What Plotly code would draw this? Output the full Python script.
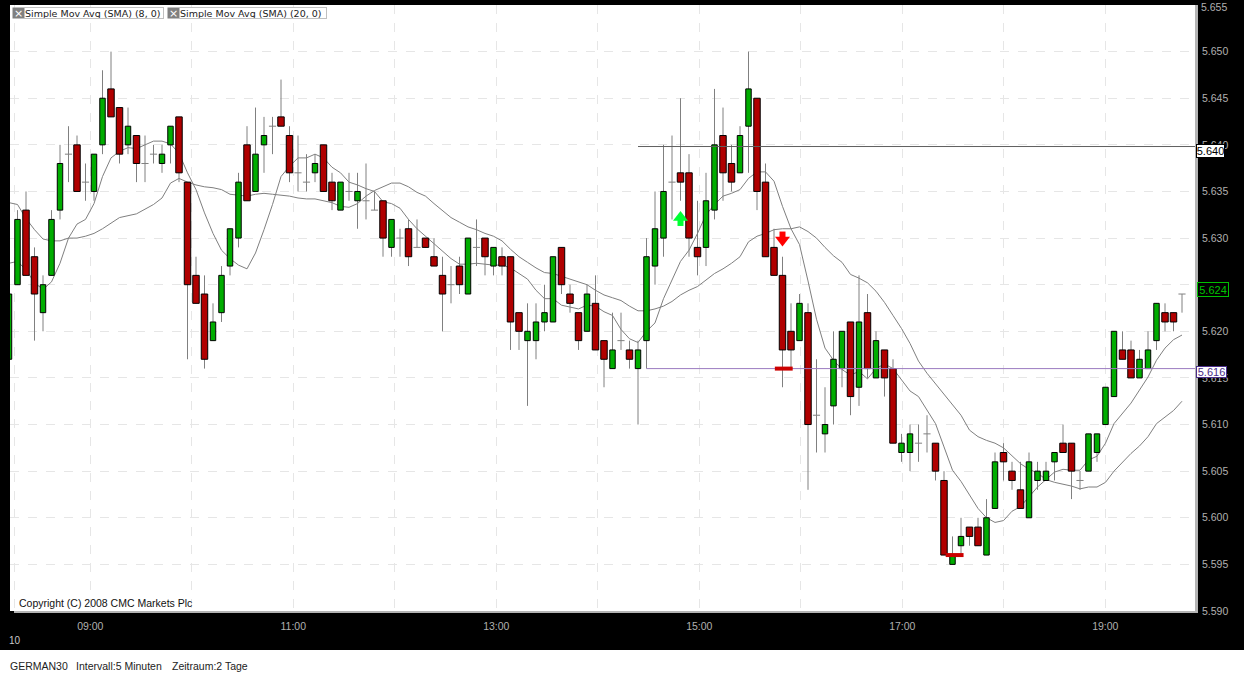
import plotly.graph_objects as go

# Columns: kind (g up, r down, d doji), high, body top, body bottom, low.
# Prices are written in thousandths above 5 (633 -> 5.633).
RAW = """
g 624 624 617 617
g 633 632 625 625
r 635 633 626 626
r 629 628 624 619
g 626 625 622 620
g 633 632 626 626
g 640 638 633 632
d 642 639 639 636
r 641 640 635 635
d 638 636 636 634
g 639 639 635 634
g 648 645 640 639
r 650 646 643 643
r 644 644 639 638
g 644 642 640 639
r 641 641 638 636
d 641 638 638 636
d 640 639 639 638
g 640 639 638 637
g 642 642 640 638
r 643 643 637 636
r 636 636 625 617
r 628 626 623 623
r 626 624 617 616
g 623 621 619 619
g 627 626 622 621
g 631 631 627 626
g 637 636 630 629
r 642 640 634 634
g 644 639 635 635
g 643 641 640 637
d 643 642 642 639
r 647 643 642 642
r 642 641 637 636
d 641 637 637 635
d 639 636 636 635
g 639 638 637 636
r 640 640 635 635
r 637 636 634 633
g 636 636 633 633
d 637 635 635 634
g 637 635 634 631
d 638 634 634 632
d 635 633 633 633
r 634 634 630 628
g 632 632 629 628
d 631 630 630 628
r 632 631 628 627
d 632 629 629 629
r 630 630 629 629
r 630 628 627 627
r 628 626 624 620
d 627 625 625 623
r 628 627 625 624
g 630 630 624 624
d 632 629 629 627
r 630 630 628 626
g 629 629 627 626
r 629 628 627 626
r 628 628 621 618
r 622 622 620 618
g 623 620 619 612
g 623 621 619 617
g 625 622 621 620
g 628 628 621 621
r 629 629 625 624
r 625 624 623 622
r 622 622 619 618
g 625 624 620 620
r 626 623 618 618
r 619 619 617 614
g 622 618 616 616
d 622 619 619 618
r 619 618 617 616
g 619 618 616 610
g 630 628 619 616
g 635 631 627 625
g 640 635 630 628
d 641 636 636 632
r 645 637 636 634
r 639 637 630 628
r 634 629 628 626
g 637 634 629 627
g 646 640 633 632
r 644 641 637 634
r 640 638 636 635
g 642 641 637 637
g 650 646 642 637
r 645 645 635 633
r 638 636 628 628
r 631 629 626 626
r 628 626 618 614
r 623 620 618 616
g 624 623 619 619
r 623 622 610 603
d 617 611 611 607
g 614 610 609 607
g 620 617 612 610
g 620 620 616 614
r 621 621 613 611
g 626 621 614 612
r 624 622 616 615
g 620 619 615 615
r 618 618 615 613
r 617 616 608 608
g 609 608 607 606
g 610 609 607 605
d 610 608 608 606
d 611 609 609 607
r 608 608 605 604
r 605 604 596 596
g 598 596 595 595
g 600 598 597 596
r 599 599 598 597
r 600 599 597 597
g 602 600 596 596
g 607 606 601 601
r 608 607 606 604
r 606 605 604 603
r 606 603 601 601
g 607 606 600 600
g 606 605 604 603
g 606 605 604 604
g 607 607 606 604
r 610 608 607 607
r 608 608 605 602
d 605 604 604 603
g 609 609 605 605
g 609 609 607 606
g 614 614 610 610
g 620 620 613 613
r 620 618 617 617
r 619 618 615 615
g 618 617 615 615
g 620 618 616 616
g 623 623 619 618
r 623 622 621 620
r 622 622 621 620
d 624 624 624 622
"""
rows = [r.split() for r in RAW.strip().splitlines()]
kinds = [r[0] for r in rows]
bar_high = [5 + int(r[1]) / 1000 for r in rows]
body_top = [5 + int(r[2]) / 1000 for r in rows]
body_bottom = [5 + int(r[3]) / 1000 for r in rows]
bar_low = [5 + int(r[4]) / 1000 for r in rows]
bars = list(range(-1, len(rows) - 1))

sma8_points = [
    627.3, 627.5, 626.6, 625.2, 624.5, 625.3, 627.3, 630.0, 631.5, 632.0, 633.7, 636.6, 638.6, 639.3, 639.7,
    639.6, 640.0, 640.4, 640.4, 640.1, 639.1, 637.0, 635.2, 632.7, 630.5, 628.7, 627.8, 627.1, 626.7, 628.4,
    630.9, 633.6, 636.6, 637.7, 638.6, 638.6, 639.0, 638.6, 637.6, 637.0, 636.0, 635.7, 635.3, 635.0, 633.9,
    633.7, 633.2, 632.0, 631.0, 630.2, 629.4, 628.6, 627.8, 627.2, 627.2, 627.3, 627.2, 627.1, 627.1, 626.8,
    626.2, 625.6, 624.4, 623.5, 623.5, 622.8, 622.6, 622.4, 622.8, 622.7, 622.1, 621.7, 620.2, 619.2, 618.8,
    620.0, 620.9, 623.5, 625.5, 627.5, 628.7, 630.5, 632.5, 633.6, 634.5, 634.8, 635.2, 636.4, 637.1, 637.1,
    636.1, 633.4, 631.0, 629.3, 625.4, 621.3, 618.2, 616.9, 615.9, 615.3, 615.7, 614.9, 616.0, 616.5, 616.0,
    614.8, 613.6, 613.0, 611.6, 610.1, 607.6, 605.1, 603.9, 602.4, 601.0, 600.0, 599.5, 599.7, 600.7, 601.2,
    602.3, 603.3, 604.1, 604.9, 605.2, 605.1, 605.1, 606.2, 606.6, 608.0, 610.1, 611.2, 612.3, 613.7, 615.1,
    616.9, 618.2, 619.1, 619.6]
sma20_points = [
    633.8, 633.6, 632.1, 630.9, 629.9, 629.7, 629.7, 630.0, 630.0, 630.2, 630.5, 631.0, 631.6, 632.2, 632.4,
    632.6, 633.1, 633.6, 634.3, 635.9, 636.4, 636.0, 635.7, 635.5, 635.4, 635.2, 634.7, 634.6, 634.5, 634.7,
    634.8, 634.7, 634.6, 634.5, 634.3, 634.2, 634.2, 634.0, 633.8, 633.4, 633.3, 633.7, 634.5, 635.1, 635.5,
    635.9, 635.9, 635.5, 634.9, 634.5, 633.7, 633.0, 632.2, 631.7, 631.2, 630.9, 630.5, 630.2, 629.7, 628.8,
    628.0, 627.4, 626.8, 626.3, 626.2, 625.9, 625.6, 625.3, 625.0, 624.4, 623.9, 623.6, 623.3, 622.7, 622.2,
    622.2, 622.4, 622.7, 623.2, 623.9, 624.4, 624.8, 625.5, 626.2, 626.7, 627.3, 628.0, 629.6, 630.2, 630.5,
    630.9, 631.0, 631.0, 631.2, 630.7, 630.0, 629.0, 628.1, 627.4, 626.1, 625.7, 625.2, 624.3, 623.1, 621.7,
    620.3, 618.7, 616.8, 615.5, 614.4, 613.2, 612.1, 611.0, 609.4, 608.7, 608.3, 608.0, 607.5, 606.6, 605.8,
    605.2, 604.8, 604.1, 603.8, 603.6, 603.4, 603.1, 603.3, 603.3, 603.8, 605.0, 606.0, 606.9, 607.7, 608.7,
    610.1, 610.8, 611.5, 612.5]
sma8 = [5 + v / 1000 for v in sma8_points]
sma20 = [5 + v / 1000 for v in sma20_points]

hour_labels = ["", "09:00", "", "11:00", "", "13:00", "", "15:00", "", "17:00", "", "19:00"]
price_ticks = [5.590, 5.595, 5.600, 5.605, 5.610, 5.615, 5.620, 5.630, 5.635, 5.640, 5.645, 5.650]
level_resistance = 5.63982
level_support = 5.616
signal_up_bar = 78
signal_up_shaft = [5.6313, 5.6322]
signal_up_head = 5.6322
signal_down_bar = 90
signal_down_shaft = [5.6307, 5.6298]
signal_down_head = 5.6298
stop_bars = [[89.1, 91.2], [109.2, 111.3]]
stop_prices = [5.616, 5.596]

W, H = 1244, 675
L, R, T, B = 10, 1195, 5, 611
BAR_PX, BAR0_PX = 8.5, 17.5


def idx(px):
    return (px - BAR0_PX) / BAR_PX


def xp(px):
    return (px - L) / (R - L)


def yp(py):
    return (B - py) / (B - T)


hour_ticks = [idx(14.5)] + [idx(90.3 + 101.5 * i) for i in range(11)]

RED, GREEN, WICK = "#B00000", "#00AD00", "#808080"
fig = go.Figure()

fig.add_trace(go.Scatter(x=bars, y=sma8, mode="lines", line=dict(color="#7f7f7f", width=1), zorder=0, hoverinfo="skip"))
fig.add_trace(go.Scatter(x=bars, y=sma20, mode="lines", line=dict(color="#7f7f7f", width=1), zorder=0, hoverinfo="skip"))

# wicks: crisp error bars from the body top up to the high and down to the low
fig.add_trace(go.Scatter(
    x=bars, y=body_top, mode="markers", marker=dict(size=1, opacity=0),
    error_y=dict(type="data", symmetric=False, array=[h - t for h, t in zip(bar_high, body_top)],
                 arrayminus=[t - l for t, l in zip(body_top, bar_low)], color=WICK, thickness=1, width=0),
    zorder=1, hoverinfo="skip"))
# doji ticks
doji = [(x, t) for x, t, k in zip(bars, body_top, kinds) if k == "d"]
fig.add_trace(go.Scatter(
    x=[d[0] for d in doji], y=[d[1] for d in doji], mode="markers", marker=dict(size=1, opacity=0),
    error_x=dict(type="constant", value=0.42, color=WICK, thickness=1, width=0),
    zorder=1, hoverinfo="skip"))
# bodies
body_rows = [(x, t, b, k) for x, t, b, k in zip(bars, body_top, body_bottom, kinds) if k != "d"]
fig.add_trace(go.Bar(
    x=[r[0] for r in body_rows],
    base=[r[2] for r in body_rows],
    y=[r[1] - r[2] for r in body_rows],
    width=[0.76 if r[3] == "r" else 0.64 for r in body_rows],
    marker=dict(color=[RED if r[3] == "r" else GREEN for r in body_rows], line=dict(color="black", width=1)),
    zorder=2, hoverinfo="skip"))

fig.add_trace(go.Scatter(x=[73, 140], y=[level_resistance] * 2, mode="lines",
                         line=dict(color="#606060", width=1), zorder=3, hoverinfo="skip"))
fig.add_trace(go.Scatter(x=[74, 140], y=[level_support] * 2, mode="lines",
                         line=dict(color="#9B7BC0", width=1), zorder=3, hoverinfo="skip"))
for xs, p in zip(stop_bars, stop_prices):
    fig.add_trace(go.Scatter(x=xs, y=[p, p], mode="lines", line=dict(color="#CC0000", width=4),
                             zorder=3, hoverinfo="skip"))

# signal arrows: shaft + head
for bar, shaft, head, symbol, col in [
    (signal_up_bar, signal_up_shaft, signal_up_head, "triangle-up", "#00FF33"),
    (signal_down_bar, signal_down_shaft, signal_down_head, "triangle-down", "#FF0000"),
]:
    fig.add_trace(go.Scatter(x=[bar, bar], y=shaft, mode="lines", line=dict(color=col, width=6), zorder=3,
                             hoverinfo="skip"))
    fig.add_trace(go.Scatter(x=[bar], y=[head], mode="markers", marker=dict(symbol=symbol, size=13, color=col,
                             line=dict(width=0)), zorder=3, hoverinfo="skip"))

ann = []


def label(px, py, text, size=11, color="black", anchor="left", family="Liberation Sans", **kw):
    ann.append(dict(xref="paper", yref="paper", x=xp(px), y=yp(py), text=text, showarrow=False, xanchor=anchor,
                    yanchor="middle", font=dict(family=family, size=size, color=color), **kw))


def box(px, py, text, fg, bg, border, h=12, w=30):
    ann.append(dict(xref="paper", yref="paper", x=xp(px), y=yp(py), text=text, showarrow=False, xanchor="left",
                    yanchor="middle", font=dict(family="Liberation Sans", size=11, color=fg), bgcolor=bg,
                    bordercolor=border, borderwidth=1, borderpad=0, width=w, height=h))


# legend chips
for x_icon, x_text, txt, w in [(18.5, 24, "Simple Mov Avg (SMA) (8, 0)", 138), (173.5, 179, "Simple Mov Avg (SMA) (20, 0)", 146)]:
    ann.append(dict(xref="paper", yref="paper", x=xp(x_icon), y=yp(13), text="×", showarrow=False, xanchor="center",
                    yanchor="middle", font=dict(family="DejaVu Sans", size=11, color="white"), bgcolor="#808080",
                    width=11, height=10, borderpad=0))
    ann.append(dict(xref="paper", yref="paper", x=xp(x_text), y=yp(13), text=txt, showarrow=False, xanchor="left",
                    yanchor="middle", align="left", font=dict(family="DejaVu Sans", size=9.5, color="#222222"),
                    bgcolor="white", bordercolor="#c0c0c0", borderwidth=1, borderpad=0, width=w, height=10))

label(17, 603, "Copyright (C) 2008 CMC Markets Plc", size=10.5, color="#111111")
label(7, 640, "10", size=10, color="#c8c8c8")
label(8, 666, "GERMAN30", size=10.5, color="#222222")
label(74, 666, "Intervall:5 Minuten", size=10.5, color="#222222")
label(170, 666, "Zeitraum:2 Tage", size=10.5, color="#222222")
label(1199, 7, "5.655", size=10.5, color="#b0b0b0")

box(1196, 151, "5.640", "black", "white", "black", h=12, w=27)
box(1197, 289.5, "5.624", "#00C000", "black", "#00C000", h=13, w=30)
box(1195.5, 372, "5.616", "#4B2E8A", "white", "#4B2E8A", h=10, w=29)

shapes = [
    dict(type="rect", xref="paper", yref="paper", x0=xp(10), x1=xp(14), y0=yp(T), y1=yp(B), fillcolor="white",
         line_width=0, layer="between"),
    dict(type="rect", xref="paper", yref="paper", x0=xp(1195), x1=xp(1198), y0=yp(5), y1=yp(613),
         fillcolor="#b4b4b4", line_width=0, layer="above"),
    dict(type="rect", xref="paper", yref="paper", x0=xp(14), x1=xp(1198), y0=yp(611), y1=yp(613),
         fillcolor="#b4b4b4", line_width=0, layer="above"),
    dict(type="rect", xref="paper", yref="paper", x0=xp(0), x1=xp(W), y0=yp(650), y1=yp(H), fillcolor="white",
         line_width=0, layer="above"),
]

fig.update_layout(
    width=W, height=H, autosize=False, showlegend=False, barmode="overlay",
    margin=dict(l=L, r=W - R, t=T, b=H - B, pad=0),
    paper_bgcolor="black", plot_bgcolor="white",
    annotations=ann, shapes=shapes,
    xaxis=dict(range=[idx(L), idx(R)], tickmode="array", tickvals=hour_ticks,
               ticktext=hour_labels, showgrid=True, gridcolor="#e6e6e6", griddash="dash", gridwidth=1,
               zeroline=False, showline=False, ticks="", ticklabelstandoff=7,
               tickfont=dict(family="Liberation Sans", size=10.5, color="#b0b0b0")),
    yaxis=dict(range=[5.590, 5.655], side="right", tickmode="array", tickvals=price_ticks + [5.625, 5.655],
               ticktext=[f"{v:.3f}" for v in price_ticks] + ["", ""],
               showgrid=True, gridcolor="#e6e6e6", griddash="dash", gridwidth=1, zeroline=False, showline=False,
               ticks="", ticklabelstandoff=6,
               tickfont=dict(family="Liberation Sans", size=10.5, color="#b0b0b0")),
)

fig.write_html("out.html", config=dict(displayModeBar=False), post_script="document.body.style.margin='0';document.body.style.overflow='hidden';")
